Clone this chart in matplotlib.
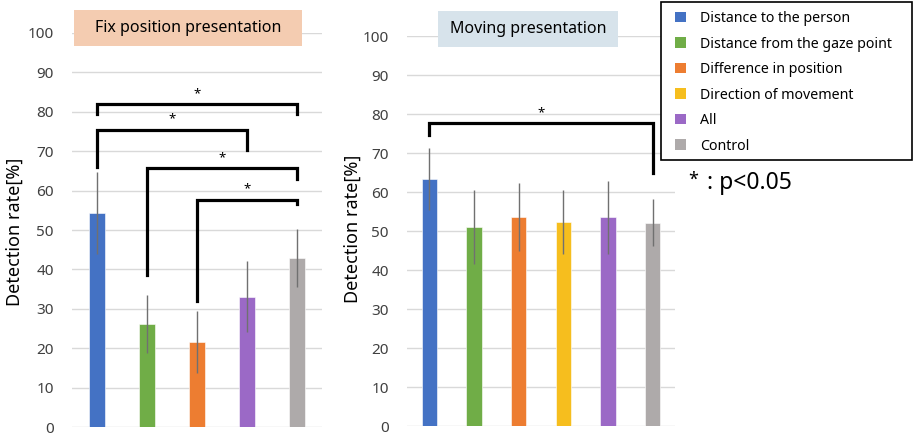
import numpy as np
from matplotlib import pyplot as plt
from matplotlib.patches import Rectangle, Patch

plt.rcParams['font.family'] = ['Noto Sans', 'DejaVu Sans']

categories = ["Distance to the person", "Distance from the gaze point", "Difference in position",
              "Direction of movement", "All", "Control"]
colors = ["#4472C4", "#70AD47", "#ED7D31", "#F6BE1E", "#9B69C6", "#AEAAAA"]

# fix position: no "Direction of movement"
fix_cats = [0, 1, 2, 4, 5]
fix_mean = [54.3, 26.2, 21.6, 33.1, 42.9]
fix_err = [10.3, 7.4, 7.9, 9.1, 7.4]

mov_cats = [0, 1, 2, 3, 4, 5]
mov_mean = [63.4, 51.1, 53.5, 52.4, 53.5, 52.1]
mov_err = [8.0, 9.5, 8.7, 8.2, 9.3, 6.0]

# significance brackets: (left bar, right bar, bracket height, left leg end, right leg end)
fix_sig = [(0, 4, 82.0, 79.5, 79.5), (0, 3, 75.5, 66.0, 70.4),
           (1, 4, 65.7, 38.5, 63.0), (2, 4, 57.7, 32.1, 56.5)]
mov_sig = [(0, 5, 77.6, 74.6, 64.8)]

W, H = 913, 436
fig = plt.figure(figsize=(W/100, H/100), dpi=100)
ax1 = fig.add_axes([72/W, 9/H, 250/W, 394/H])
ax2 = fig.add_axes([407/W, 10/H, 268/W, 390/H])


def draw_panel(ax, cats, mean, err, sig, width):
    x = np.arange(len(cats))
    ax.bar(x, mean, width=width, color=[colors[c] for c in cats], zorder=2,
           edgecolor='white', linewidth=0.4)
    ax.errorbar(x, mean, yerr=err, fmt='none', ecolor='#707070', elinewidth=1, capsize=0, zorder=3)
    ax.set_xlim(-0.5, len(cats) - 0.5)
    ax.set_ylim(0, 100)
    ax.set_yticks(np.arange(0, 101, 10))
    ax.set_xticks([])
    ax.tick_params(axis='y', length=0, pad=13, labelsize=11, labelcolor='#404040')
    ax.grid(axis='y', color='#D9D9D9', lw=1, zorder=0)
    for s in ax.spines.values():
        s.set_visible(False)
    for i, j, yb, yl, yr in sig:
        ax.plot([i, i, j, j], [yl, yb, yb, yr], color='black', lw=2.3, zorder=4,
                solid_joinstyle='miter', clip_on=False)
        ax.text((i + j) / 2, yb + 1.0, '*', ha='center', va='bottom', fontsize=9.5,
                fontweight='bold', zorder=5)


draw_panel(ax1, fix_cats, fix_mean, fix_err, fix_sig, 0.32)
draw_panel(ax2, mov_cats, mov_mean, mov_err, mov_sig, 0.34)

# title boxes
fig.patches.append(Rectangle((74/W, 1 - 46/H), 228/W, 36/H, transform=fig.transFigure,
                             facecolor='#F4CCB1', edgecolor='none', zorder=0))
fig.text(188/W, 1 - 28/H, "Fix position presentation", ha='center', va='center', fontsize=11.5)
fig.patches.append(Rectangle((438/W, 1 - 47/H), 180/W, 36/H, transform=fig.transFigure,
                             facecolor='#D7E3EB', edgecolor='none', zorder=0))
fig.text(528/W, 1 - 29/H, "Moving presentation", ha='center', va='center', fontsize=11.5)

fig.text(15/W, 1 - 232/H, "Detection rate[%]", rotation=90, ha='center', va='center', fontsize=13)
fig.text(353/W, 1 - 229/H, "Detection rate[%]", rotation=90, ha='center', va='center', fontsize=13)

# legend with a hand-drawn frame
fig.patches.append(Rectangle((661/W, 1 - 160/H), 251/W, 158/H, transform=fig.transFigure,
                             facecolor='white', edgecolor='black', lw=1.2, zorder=1))
handles = [Patch(facecolor=c, edgecolor='none') for c in colors]
leg = fig.legend(handles, categories, loc='upper left', bbox_to_anchor=(668/W, 1 - 4/H),
                 frameon=False, fontsize=10.2, handlelength=0.78, handleheight=0.78,
                 handletextpad=1.0, labelspacing=0.74, borderaxespad=0, borderpad=0.5)
leg.set_zorder(2)

fig.text(688/W, 1 - 180/H, "*", ha='left', va='center', fontsize=13)
fig.text(707/W, 1 - 183/H, ": p<0.05", ha='left', va='center', fontsize=16.5)

fig.savefig("out.png", dpi=100)
